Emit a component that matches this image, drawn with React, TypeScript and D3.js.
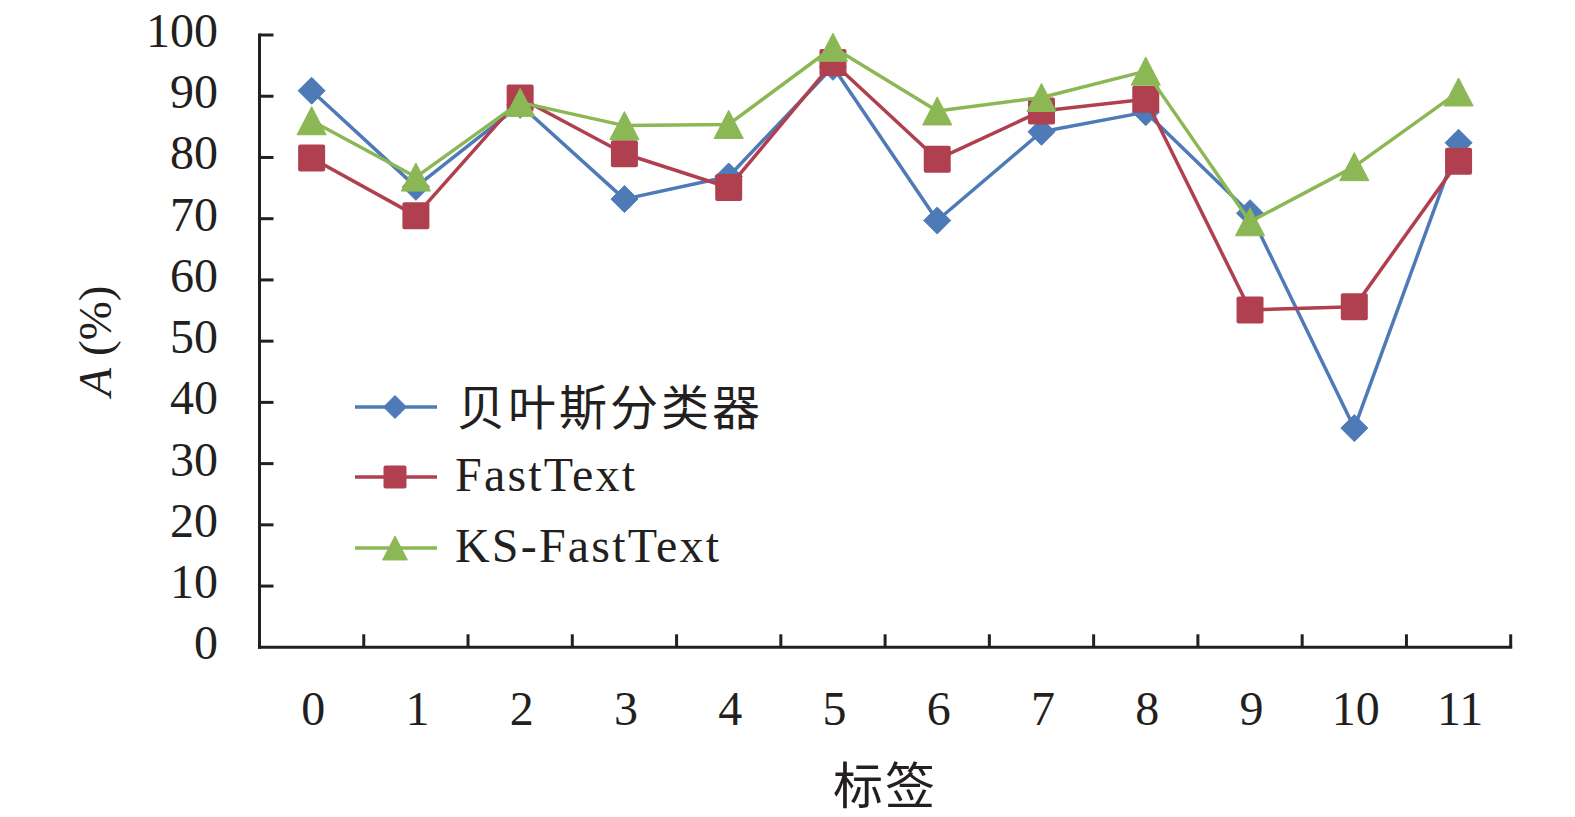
import React from "react";
import * as d3 from "d3";

const categories = ["0", "1", "2", "3", "4", "5", "6", "7", "8", "9", "10", "11"];
const bayesValues = [90.9, 75.2, 88.6, 73.2, 76.9, 94.8, 69.7, 84.2, 87.4, 70.9, 35.8, 82.4];
const fastTextValues = [79.9, 70.5, 89.7, 80.6, 75.1, 95.5, 79.7, 87.6, 89.5, 55.1, 55.6, 79.4];
const ksFastTextValues = [86.0, 76.8, 89.0, 85.2, 85.4, 98.0, 87.6, 89.8, 94.1, 69.5, 78.5, 90.7];
const yTicks = [0, 10, 20, 30, 40, 50, 60, 70, 80, 90, 100];
const seriesNames = ["贝叶斯分类器", "FastText", "KS-FastText"];

const W = 1575;
const H = 817;
const FONT = "'Liberation Serif', 'Times New Roman', 'Noto Sans CJK SC', serif";
const AXIS = "#231F20";

type Shape = "diamond" | "square" | "triangle";
const series: { name: string; values: number[]; color: string; shape: Shape }[] = [
  { name: seriesNames[0], values: bayesValues, color: "#4E7BB8", shape: "diamond" },
  { name: seriesNames[1], values: fastTextValues, color: "#B0404F", shape: "square" },
  { name: seriesNames[2], values: ksFastTextValues, color: "#8BB855", shape: "triangle" },
];

function Marker({ shape, cx, cy, size, color }: { shape: Shape; cx: number; cy: number; size: number; color: string }) {
  if (shape === "square") {
    return <rect x={cx - size / 2} y={cy - size / 2} width={size} height={size} rx={2} fill={color} />;
  }
  if (shape === "diamond") {
    const h = size / 2;
    return <path d={`M${cx},${cy - h}L${cx + h},${cy}L${cx},${cy + h}L${cx - h},${cy}Z`} fill={color} strokeLinejoin="round" stroke={color} strokeWidth={1} />;
  }
  const w = size * 1.08;
  const ht = size * 1.04;
  return (
    <path
      d={`M${cx},${cy - ht / 2}L${cx + w / 2},${cy + ht / 2}L${cx - w / 2},${cy + ht / 2}Z`}
      fill={color}
      stroke={color}
      strokeWidth={1}
      strokeLinejoin="round"
    />
  );
}

export default function App() {
  const x = d3.scaleBand<string>().domain(categories).range([259.5, 1510.7]).padding(0);
  const y = d3.scaleLinear().domain([0, 100]).range([647.3, 35]);
  const cx = (c: string) => (x(c) as number) + x.bandwidth() / 2;
  const line = d3
    .line<number>()
    .x((_, i) => cx(categories[i]))
    .y((v) => y(v));

  const x0 = x.range()[0];
  const x1 = x.range()[1];
  const yBottom = y(0);
  const legendRows = [407, 477, 548];

  return (
    <svg width={W} height={H} style={{ position: "absolute", left: 0, top: 0, background: "#fff" }} fontFamily={FONT}>
      <rect x={0} y={0} width={W} height={H} fill="#fff" />
      {/* series */}
      {series.map((s) => (
        <g key={s.name}>
          <path d={line(s.values) || ""} fill="none" stroke={s.color} strokeWidth={3.5} strokeLinejoin="round" />
          {s.values.map((v, i) => (
            <Marker key={i} shape={s.shape} cx={cx(categories[i])} cy={y(v)} size={27} color={s.color} />
          ))}
        </g>
      ))}
      {/* axes */}
      <line x1={x0} x2={x0} y1={y(100) - 1.5} y2={yBottom + 1.5} stroke={AXIS} strokeWidth={3} />
      <line x1={x0 - 1.5} x2={x1 + 1.5} y1={yBottom} y2={yBottom} stroke={AXIS} strokeWidth={3} />
      {yTicks.map((t) => (
        <g key={t}>
          {t > 0 && <line x1={x0} x2={x0 + 14} y1={y(t)} y2={y(t)} stroke={AXIS} strokeWidth={3} />}
          <text x={218} y={y(t) + 12} textAnchor="end" fontSize={48} fill={AXIS}>
            {t}
          </text>
        </g>
      ))}
      {categories.map((c) => (
        <g key={c}>
          <line
            x1={(x(c) as number) + x.bandwidth()}
            x2={(x(c) as number) + x.bandwidth()}
            y1={yBottom}
            y2={yBottom - 13}
            stroke={AXIS}
            strokeWidth={3}
          />
          <text x={cx(c) + 1.5} y={725} textAnchor="middle" fontSize={48} fill={AXIS}>
            {c}
          </text>
        </g>
      ))}
      {/* axis titles */}
      <text x={885} y={804} textAnchor="middle" fontSize={50} letterSpacing={2} fill={AXIS} fontFamily="'Noto Sans CJK SC', sans-serif">
        标签
      </text>
      <text transform="translate(95,341) rotate(-90)" textAnchor="middle" dy="0.33em" fontSize={47} fill={AXIS}>
        <tspan fontStyle="italic" fontFamily="'Liberation Serif', serif">A</tspan>
        <tspan> (%)</tspan>
      </text>
      {/* legend */}
      {series.map((s, i) => (
        <g key={s.name}>
          <line x1={355} x2={437} y1={legendRows[i]} y2={legendRows[i]} stroke={s.color} strokeWidth={3.5} />
          <Marker shape={s.shape} cx={395} cy={legendRows[i]} size={23} color={s.color} />
          {i === 0 ? (
            <text x={457} y={legendRows[i] + 18} fontSize={48} fill={AXIS} fontFamily="'Noto Sans CJK SC', sans-serif" letterSpacing={3}>
              {s.name}
            </text>
          ) : (
            <text x={455} y={legendRows[i] + 14} fontSize={48} fill={AXIS} letterSpacing={2.2}>
              {s.name}
            </text>
          )}
        </g>
      ))}
    </svg>
  );
}
